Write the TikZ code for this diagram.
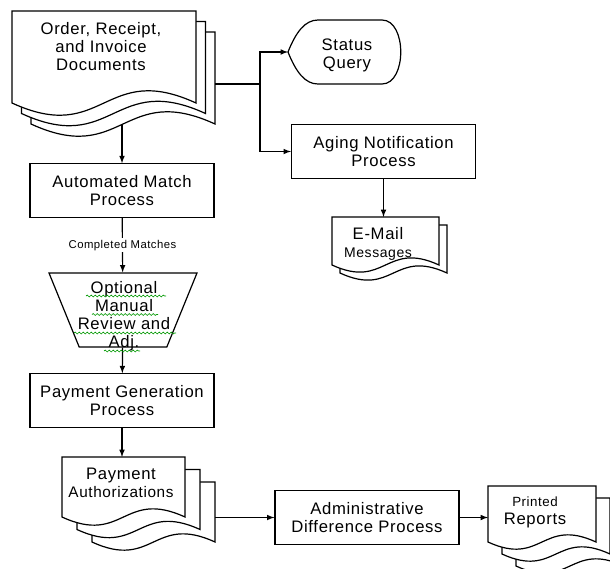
\documentclass[tikz,border=0pt]{standalone}
\usepackage{fontspec}
\setmainfont{Liberation Sans}[LetterSpace=4]
\usepackage{tikz}
\usetikzlibrary{arrows,shapes.geometric,calc,decorations.pathmorphing}

% one page with a wavy foot: x, y (top left), width, height
\newcommand{\docpage}[4]{%
  \filldraw[fill=white] (#1,#2) -- ({#1+#3},#2) -- ({#1+#3},{#2+#4})
    .. controls ({#1+0.5*#3},{#2+#4-0.23*#3}) and ({#1+0.5*#3},{#2+#4+0.23*#3}) .. (#1,{#2+#4}) -- cycle;}
% a stack of pages: x, y, width, height, dx, dy, number of back pages
\newcommand{\docstack}[7]{%
  \foreach \k in {#7,...,0}{\docpage{#1+\k*#5}{#2+\k*#6}{#3}{#4}}}

\begin{document}
\begin{tikzpicture}[x=0.75pt,y=-0.75pt,line width=0.9pt,
  font=\fontsize{12.5}{13.5}\selectfont]
\tikzstyle{proc} = [draw, fill=white, minimum width=138pt, minimum height=40pt, align=center, inner sep=2pt]
\tikzstyle{txt} = [align=center, inner sep=1pt]
\tikzstyle{flow} = [-latex]
\tikzstyle{spell} = [draw=green!60!black, line width=0.5pt, decorate, decoration={snake, amplitude=0.7pt, segment length=3pt}]
\useasboundingbox (0,0) rectangle (610,568);
\clip (0,0) rectangle (610,568);

\docstack{12}{11}{184}{92}{9.5}{10.5}{2}
\docstack{332}{217}{107}{48}{8}{8}{1}
\docstack{62}{457}{123}{60}{15}{12.5}{2}
\docstack{488}{486}{108}{56}{14}{12}{2}

% status query
\draw (288,52) .. controls (296,32) and (305,20) .. (318,20) -- (382,20)
  .. controls (407,20) and (407,84) .. (382,84) -- (318,84)
  .. controls (305,84) and (296,72) .. (288,52);

\node[txt] (orderdoc) at (101,47) {Order, Receipt,\\and Invoice\\Documents};
\node[txt] (status) at (347,55) {Status\\Query};
\node[txt] (maildoc) at (378,244) {E-Mail\\{\fontsize{10.5}{13.5}\selectfont Messages}};
\node[txt] (paydoc) at (121,483) {Payment\\{\fontsize{11.5}{13.5}\selectfont Authorizations}};
\node[txt] (printdoc) at (535,512) {{\fontsize{10}{13.5}\selectfont Printed}\\Reports};

\node[proc] (match) at (122,190.5) {Automated Match\\Process};
\node[proc] (aging) at (383.5,151.5) {Aging Notification\\Process};
\node[proc] (paygen) at (122,400.5) {Payment Generation\\Process};
\node[proc] (admin) at (367,517.5) {Administrative\\Difference Process};
\node[draw, fill=white, trapezium, trapezium angle=71, shape border rotate=180,
  trapezium stretches=true, minimum width=111pt, minimum height=55.5pt,
  inner sep=1pt] (review) at (123,310) {};
\node[txt] (reviewtxt) at (124,316) {Optional\\Manual\\Review and\\Adj.};

\coordinate (orderbot) at (122,124);
\coordinate (orderright) at (215,84);
\coordinate (split) at (260,84);
\coordinate (statustip) at (288,52);
\coordinate (mailtop) at (385,217);
\coordinate (paytop) at (122,457);
\coordinate (payright) at (215,517.5);
\coordinate (printleft) at (488,517.5);

\draw[flow] (orderbot) -- (match);
\draw (orderright) -- (split);
\draw[flow] (split) |- (statustip);
\draw[flow] (split) |- (aging);
\draw[flow] (aging.south) -- (aging.south |- mailtop);
\draw[flow] (match) -- node[fill=white, inner sep=1pt, font=\fontsize{8.5}{9}\selectfont] (done) {Completed Matches} (review);
\draw[flow] (review) -- (paygen);
\draw[flow] (paygen.south) -- (paytop);
\draw[flow] (payright) -- (admin);
\draw[flow] (admin) -- (printleft);

% spelling marks
\path[spell] (86,296) -- (166,296);
\path[spell] (92,314.5) -- (158,314.5);
\path[spell] (74,333) -- (176,333);
\path[spell] (104,351) -- (140,351);
\end{tikzpicture}
\end{document}
